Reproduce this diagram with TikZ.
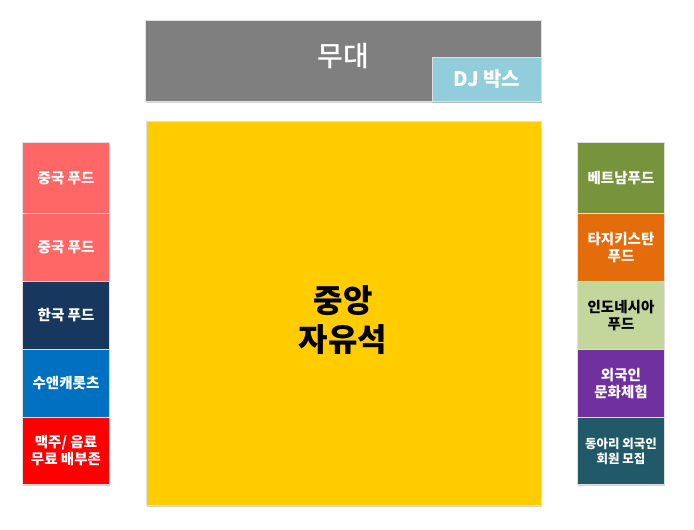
\documentclass[tikz,border=0pt]{standalone}
\usepackage{fontspec}
\setmainfont{Noto Sans CJK KR}
\newfontfamily\medfont{Noto Sans CJK KR Medium}
\usetikzlibrary{shadows}
\definecolor{stagegray}{HTML}{7F7F7F}
\definecolor{djblue}{HTML}{92CDDC}
\definecolor{seatyellow}{HTML}{FFCC00}
\definecolor{salmon}{HTML}{FF6666}
\definecolor{navy}{HTML}{17375E}
\definecolor{midblue}{HTML}{0070C0}
\definecolor{brightred}{HTML}{FF0000}
\definecolor{olive}{HTML}{77933C}
\definecolor{orangebox}{HTML}{E46C0A}
\definecolor{lightgreen}{HTML}{C3D69B}
\definecolor{purplebox}{HTML}{7030A0}
\definecolor{tealbox}{HTML}{215968}
\tikzset{
  area/.style={draw=white!88!black, line width=1pt, anchor=north west, inner sep=0pt,
    drop shadow={opacity=0.35, shadow xshift=0.8pt, shadow yshift=-1.8pt}},
  booth/.style={area, minimum width=87pt, minimum height=68pt, text=white, align=center,
    font=\bfseries\fontsize{14.5}{17}\selectfont},
}
\begin{document}
\begin{tikzpicture}[x=1pt,y=-1pt]
\useasboundingbox (0,0) rectangle (694,530);
% stage
\node[area, fill=stagegray, minimum width=396pt, minimum height=81pt] (stage) at (145,20) {};
\node[text=white, font=\medfont\fontsize{28}{32}\selectfont] (stagelabel) at (343,56) {무대};
\node[area, fill=djblue, minimum width=109pt, minimum height=44pt, text=white,
  font=\bfseries\fontsize{20}{24}\selectfont] (dj) at (432,57) {DJ 박스};
% central seating
\node[area, fill=seatyellow, minimum width=395pt, minimum height=384pt] (seat) at (146,121) {};
\node[align=center, font=\bfseries\fontsize{32}{39}\selectfont] (seatlabel) at (343,320) {중앙\\자유석};
% left booths
\node[booth, fill=salmon, minimum height=71pt] (l1) at (22,142) {중국 푸드};
\node[booth, fill=salmon] (l2) at (22,213) {중국 푸드};
\node[booth, fill=navy] (l3) at (22,281) {한국 푸드};
\node[booth, fill=midblue] (l4) at (22,349) {수앤캐롯츠};
\node[booth, fill=brightred, minimum height=67pt] (l5) at (22,417) {맥주/ 음료\\무료 배부존};
% right booths
\node[booth, fill=olive, minimum height=71pt] (r1) at (577,142) {베트남푸드};
\node[booth, fill=orangebox] (r2) at (577,213) {타지키스탄\\푸드};
\node[booth, fill=lightgreen, text=black] (r3) at (577,281) {인도네시아\\푸드};
\node[booth, fill=purplebox] (r4) at (577,349) {외국인\\문화체험};
\node[booth, fill=tealbox, minimum height=67pt, font=\bfseries\fontsize{12.5}{15}\selectfont] (r5) at (577,417) {동아리 외국인\\회원 모집};
\end{tikzpicture}
\end{document}
